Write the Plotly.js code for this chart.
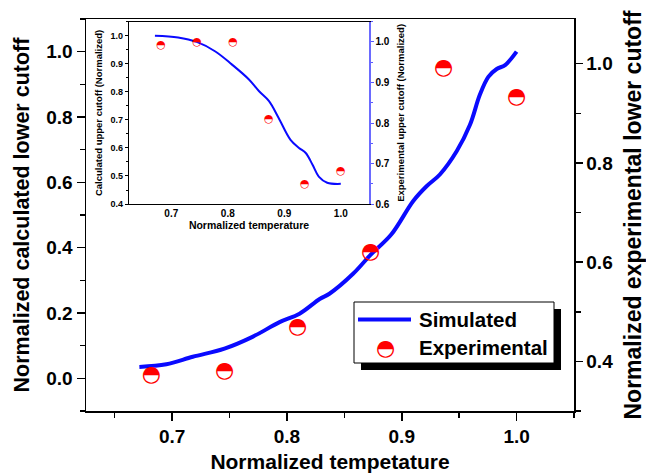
<!DOCTYPE html>
<html>
<head>
<meta charset="utf-8">
<script src="https://cdn.plot.ly/plotly-3.0.1.min.js"></script>
<style>html,body{margin:0;padding:0;background:#fff;}</style>
</head>
<body>
<div id="chart" style="width:646px;height:473px;"></div>
<script>
// ---- Main panel: lower cutoff ----
const mainSimTemp   = [0.6715, 0.695, 0.718, 0.7456, 0.770, 0.7936, 0.811, 0.8285, 0.837, 0.8576, 0.8728, 0.891, 0.910, 0.9216, 0.9332, 0.9478, 0.9594, 0.968, 0.9754, 0.9827, 0.990, 1.0];
const mainSimCutoff = [0.035, 0.043, 0.066, 0.091, 0.127, 0.172, 0.198, 0.243, 0.259, 0.320, 0.378, 0.441, 0.543, 0.588, 0.624, 0.695, 0.776, 0.868, 0.923, 0.947, 0.959, 1.0];
const expTemp         = [0.682, 0.7456, 0.8093, 0.8728, 0.9365, 1.0];
const mainExpCutoff   = [0.371, 0.379, 0.469, 0.619, 0.991, 0.931];

// ---- Inset: upper cutoff ----
const insetSimTemp   = [0.671, 0.712, 0.745, 0.778, 0.807, 0.837, 0.855, 0.873, 0.890, 0.911, 0.926, 0.938, 0.950, 0.961, 0.976, 1.0];
const insetSimCutoff = [1.0, 0.994, 0.978, 0.944, 0.898, 0.845, 0.803, 0.767, 0.707, 0.629, 0.600, 0.582, 0.540, 0.498, 0.476, 0.472];
const insetExpCutoff = [0.993, 1.0, 1.0, 0.810, 0.648, 0.680];

const legendLabels = ['Simulated', 'Experimental'];
const markerGlyph = '\u25D3';

const F = 'Liberation Sans, Arial, Helvetica, sans-serif';
const black = '#000000';

const traces = [
  {x: mainSimTemp, y: mainSimCutoff, xaxis: 'x', yaxis: 'y', mode: 'lines', name: legendLabels[0],
   line: {color: '#0a0aff', width: 4, shape: 'spline', smoothing: 1}, hoverinfo: 'skip'},
  {x: expTemp, y: mainExpCutoff, xaxis: 'x', yaxis: 'y2', mode: 'text', name: legendLabels[1],
   text: expTemp.map(() => markerGlyph), textposition: 'middle center',
   textfont: {family: 'DejaVu Sans', size: 22, color: '#ff0000'}, cliponaxis: false, hoverinfo: 'skip'},
  {x: insetSimTemp, y: insetSimCutoff, xaxis: 'x2', yaxis: 'y3', mode: 'lines',
   line: {color: '#0a0aff', width: 2, shape: 'spline', smoothing: 1}, hoverinfo: 'skip'},
  {x: expTemp, y: insetExpCutoff, xaxis: 'x2', yaxis: 'y4', mode: 'text',
   text: expTemp.map(() => markerGlyph), textposition: 'middle center',
   textfont: {family: 'DejaVu Sans', size: 11, color: '#ff0000'}, cliponaxis: false, hoverinfo: 'skip'}
];

function px2x(p){ return (p - 86) / 488; }
function px2y(p){ return (411 - p) / 392; }

const bigTick = {family: F, size: 19, weight: 'bold', color: black};
const smallTick = {family: F, size: 9, weight: 'bold', color: black};
const smallTickR = {family: F, size: 10, weight: 'bold', color: black};

const layout = {
  width: 646, height: 473,
  margin: {l: 86, r: 72, t: 19, b: 62, pad: 0},
  paper_bgcolor: '#ffffff', plot_bgcolor: '#ffffff',
  showlegend: false,
  xaxis: {
    domain: [0, 1], range: [0.625, 1.05], tick0: 0.7, dtick: 0.1, tickformat: '.1f',
    ticks: 'outside', ticklen: 8, tickwidth: 1.5, tickcolor: black,
    minor: {tick0: 0.65, dtick: 0.05, ticks: 'outside', ticklen: 5, tickwidth: 1.5, tickcolor: black},
    showline: true, linewidth: 1.5, linecolor: black, mirror: true,
    showgrid: false, zeroline: false, tickfont: bigTick,
    title: {text: 'Normalized tempetature', font: {family: F, size: 21, weight: 'bold', color: black}, standoff: 11}
  },
  yaxis: {
    range: [-0.1, 1.1], tick0: 0, dtick: 0.2, tickformat: '.1f',
    ticks: 'outside', ticklen: 8, tickwidth: 1.5, tickcolor: black,
    minor: {tick0: 0.1, dtick: 0.1, ticks: 'outside', ticklen: 5, tickwidth: 1.5, tickcolor: black},
    showline: true, linewidth: 1.5, linecolor: black,
    showgrid: false, zeroline: false, tickfont: bigTick,
    title: {text: 'Normalized calculated lower cutoff', font: {family: F, size: 21.5, weight: 'bold', color: black}, standoff: 11}
  },
  yaxis2: {
    overlaying: 'y', side: 'right', anchor: 'x',
    range: [0.3, 1.09], tick0: 0.4, dtick: 0.2, tickformat: '.1f',
    ticks: 'outside', ticklen: 7, tickwidth: 1.5, tickcolor: black,
    minor: {tick0: 0.3, dtick: 0.1, ticks: 'outside', ticklen: 5, tickwidth: 1.5, tickcolor: black},
    showline: true, linewidth: 1.5, linecolor: black,
    showgrid: false, zeroline: false, tickfont: bigTick,
    title: {text: 'Normalized experimental lower cutoff', font: {family: F, size: 23, weight: 'bold', color: black}, standoff: 13}
  },
  xaxis2: {
    domain: [0.088, 0.580], anchor: 'y3', range: [0.625, 1.05], tick0: 0.7, dtick: 0.1, tickformat: '.1f',
    ticks: '', showline: true, linewidth: 1.2, linecolor: black, mirror: true,
    showgrid: false, zeroline: false, tickfont: smallTickR,
    title: {text: 'Normalized temperature', font: {family: F, size: 10.5, weight: 'bold', color: black}, standoff: 3}
  },
  yaxis3: {
    domain: [0.528, 0.993], anchor: 'x2', range: [0.4, 1.05], tick0: 0.4, dtick: 0.1, tickformat: '.1f',
    ticks: 'outside', ticklen: 3, tickwidth: 1, tickcolor: black,
    minor: {tick0: 0.45, dtick: 0.05, ticks: 'outside', ticklen: 2, tickwidth: 1, tickcolor: black},
    showline: true, linewidth: 1.2, linecolor: black,
    showgrid: false, zeroline: false, tickfont: smallTick,
    title: {text: 'Calculated upper cutoff (Normalized)', font: {family: F, size: 9.5, weight: 'bold', color: black}, standoff: 6}
  },
  yaxis4: {
    overlaying: 'y3', side: 'right', anchor: 'x2',
    range: [0.6, 1.05], tick0: 0.6, dtick: 0.1, tickformat: '.1f',
    ticks: 'outside', ticklen: 3, tickwidth: 1, tickcolor: '#5a5aff',
    minor: {tick0: 0.65, dtick: 0.05, ticks: 'outside', ticklen: 2, tickwidth: 1, tickcolor: '#5a5aff'},
    showline: true, linewidth: 1.5, linecolor: '#6a6aff',
    showgrid: false, zeroline: false, tickfont: smallTickR,
    title: {text: 'Experimental upper cutoff (Normalized)', font: {family: F, size: 9.5, weight: 'bold', color: black}, standoff: 8}
  },
  shapes: [
    {type: 'rect', xref: 'paper', yref: 'paper', x0: px2x(361), x1: px2x(561), y0: px2y(370), y1: px2y(309),
     fillcolor: black, line: {width: 0}, layer: 'above'},
    {type: 'rect', xref: 'paper', yref: 'paper', x0: px2x(354), x1: px2x(554), y0: px2y(363), y1: px2y(302),
     fillcolor: '#ffffff', line: {width: 1, color: black}, layer: 'above'},
    {type: 'line', xref: 'paper', yref: 'paper', x0: px2x(358), x1: px2x(411), y0: px2y(319.5), y1: px2y(319.5),
     line: {width: 4, color: '#0a0aff'}, layer: 'above'}
  ],
  annotations: [
    {xref: 'paper', yref: 'paper', x: px2x(417), y: px2y(319.5), xanchor: 'left', yanchor: 'middle',
     text: legendLabels[0], showarrow: false, font: {family: F, size: 20.5, weight: 'bold', color: black}},
    {xref: 'paper', yref: 'paper', x: px2x(417), y: px2y(347.5), xanchor: 'left', yanchor: 'middle',
     text: legendLabels[1], showarrow: false, font: {family: F, size: 20.5, weight: 'bold', color: black}},
    {xref: 'paper', yref: 'paper', x: px2x(385), y: px2y(347.5), xanchor: 'center', yanchor: 'middle',
     text: markerGlyph, showarrow: false, font: {family: 'DejaVu Sans', size: 22, color: '#ff0000'}}
  ]
};

Plotly.newPlot('chart', traces, layout, {staticPlot: true, displayModeBar: false});
</script>
</body>
</html>
